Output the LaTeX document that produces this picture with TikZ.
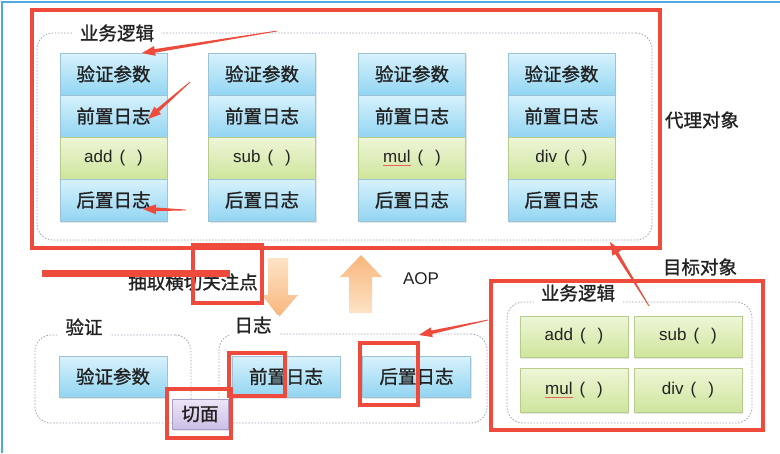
\documentclass[tikz,border=0pt]{standalone}
\usepackage{fontspec}
\setmainfont{Liberation Sans}
\newfontfamily\cjk[FakeBold=1.2]{Noto Sans CJK SC}
\usetikzlibrary{arrows.meta,shadows,calc}
\definecolor{redm}{HTML}{EF4B3C}
\definecolor{txt}{HTML}{222222}
\definecolor{boxedge}{HTML}{9CC4D6}
\definecolor{bluetop}{HTML}{D8F2FC}
\definecolor{bluebot}{HTML}{92D5F2}
\definecolor{greenedge}{HTML}{B5CC8A}
\definecolor{greentop}{HTML}{EEF6D8}
\definecolor{greenbot}{HTML}{CFE59C}
\definecolor{purpedge}{HTML}{A89CC4}
\definecolor{purptop}{HTML}{EDE6F7}
\definecolor{purpbot}{HTML}{CDBFE6}
\definecolor{dashcol}{HTML}{9AA6B6}
\definecolor{framecol}{HTML}{4FA8E0}
\definecolor{orlight}{HTML}{FDE3C6}
\definecolor{ordark}{HTML}{F8B67C}
\definecolor{sqred}{HTML}{E86060}
\newcommand\spellul[1]{\setbox0\hbox{#1}\rlap{\color{sqred}\raisebox{-3pt}{\rule{\wd0}{0.8pt}}}\box0}
\newcommand\zh{\cjk\fontsize{18.5}{21}\selectfont}
\newcommand\taperarrow[2]{%
  \coordinate (tb) at ($(#2)!13pt!(#1)$);
  \fill[redm] ($(#1)!0.4pt!90:(#2)$) -- ($(tb)!1.8pt!90:(#2)$) -- ($(tb)!5pt!90:(#2)$) -- (#2)
    -- ($(tb)!5pt!-90:(#2)$) -- ($(tb)!1.8pt!-90:(#2)$) -- ($(#1)!0.4pt!-90:(#2)$) -- cycle;}
\begin{document}
\begin{tikzpicture}[x=1pt,y=-1pt,
  every node/.style={font=\fontsize{17}{20}\selectfont, text=txt},
  basebox/.style={line width=0.6pt, inner sep=0pt,
    drop shadow={opacity=0.2, shadow xshift=1pt, shadow yshift=-1.5pt}},
  bluebox/.style={basebox, draw=boxedge, top color=bluetop, bottom color=bluebot,
    minimum width=107pt, minimum height=42pt},
  greenbox/.style={basebox, draw=greenedge, top color=greentop, bottom color=greenbot,
    minimum width=107pt, minimum height=42pt},
  purpbox/.style={basebox, draw=purpedge, top color=purptop, bottom color=purpbot,
    minimum width=56pt, minimum height=30pt},
  group/.style={draw=dashcol, line width=0.8pt, dash pattern=on 1.5pt off 1.6pt,
    rounded corners=16pt, inner sep=0pt},
  grouplabel/.style={fill=white, inner xsep=7pt, inner ysep=2pt},
  redframe/.style={draw=redm, line width=3.6pt, inner sep=0pt},
  plain/.style={inner sep=0pt}]
\useasboundingbox (0,0) rectangle (780,453);
\fill[white] (0,0) rectangle (780,453);
\draw[framecol, line width=1.2pt] (2,453) -- (2,2) -- (780,2);

% ---- proxy group (top) ----
\node[group, minimum width=615pt, minimum height=207pt] (topgroup) at (344.5,136.5) {};
\node[grouplabel] (toplabel) at (117,33) {\zh 业务逻辑};
\foreach \c/\x/\f in {1/113.5/{add}, 2/262/{sub}, 3/412/{\spellul{mul}}, 4/561.5/{div}}{
  \node[bluebox]  (v\c) at (\x,74)  {\zh 验证参数};
  \node[bluebox]  (q\c) at (\x,116) {\zh 前置日志};
  \node[greenbox] (f\c) at (\x,158) {\f\hspace{7pt}(\hspace{12pt})};
  \node[bluebox]  (h\c) at (\x,200) {\zh 后置日志};
}
\node[plain] (proxylabel) at (702,120) {\zh 代理对象};

% ---- middle ----
\node[plain] (extract) at (193,282) {\zh 抽取横切关注点};
\node[plain] (aop) at (421,279) {AOP};
\shade[top color=orlight, bottom color=ordark]
  (268,258) -- (288,258) -- (288,295) -- (298,295) -- (279,317) -- (262,295) -- (268,295) -- cycle;
\shade[top color=ordark, bottom color=orlight]
  (349,313) -- (372,313) -- (372,277) -- (382,277) -- (361,255) -- (340,277) -- (349,277) -- cycle;

% ---- bottom left groups ----
\node[group, minimum width=156pt, minimum height=88pt] (vgroup) at (113,379) {};
\node[grouplabel] (vlabel) at (84,327) {\zh 验证};
\node[bluebox, minimum width=108pt, minimum height=41pt] (vbox) at (113,376.5) {\zh 验证参数};

\node[group, minimum width=268pt, minimum height=89pt] (lgroup) at (353,378.5) {};
\node[grouplabel] (llabel) at (253,325) {\zh 日志};
\node[bluebox, minimum width=108pt, minimum height=41pt] (prebox) at (286,376.5) {\zh 前置日志};
\node[bluebox, minimum width=108pt, minimum height=41pt] (postbox) at (416.5,376.5) {\zh 后置日志};

\node[purpbox] (aspect) at (200,414) {\zh 切面};

% ---- target (right) ----
\node[plain] (targetlabel) at (700,267) {\zh 目标对象};
\node[group, minimum width=245pt, minimum height=121pt] (rgroup) at (629.5,362.5) {};
\node[grouplabel] (rlabel) at (578,293) {\zh 业务逻辑};
\node[greenbox, minimum width=108pt, minimum height=41pt] (tadd) at (574,336.5) {add\hspace{7pt}(\hspace{12pt})};
\node[greenbox, minimum width=108pt, minimum height=41pt] (tsub) at (688,336.5) {sub\hspace{7pt}(\hspace{12pt})};
\node[greenbox, minimum width=108pt, minimum height=44pt] (tmul) at (574,390) {\spellul{mul}\hspace{7pt}(\hspace{12pt})};
\node[greenbox, minimum width=108pt, minimum height=44pt] (tdiv) at (688,390) {div\hspace{7pt}(\hspace{12pt})};

% ---- red annotations ----
\coordinate (rl1) at (42,273);
\coordinate (rl2) at (230,273);
\draw[redm, line width=7pt] (rl1) -- (rl2);

\node[redframe, minimum width=628pt, minimum height=238pt] (proxyframe) at (346,129) {};
\node[redframe, minimum width=69pt, minimum height=58pt] (concernframe) at (227.5,274) {};
\node[redframe, minimum width=64pt, minimum height=49pt] (aspectframe) at (199,413.5) {};
\node[redframe, minimum width=56pt, minimum height=43pt] (preframe) at (257,374.5) {};
\node[redframe, minimum width=58pt, minimum height=62pt] (postframe) at (389,374) {};
\node[redframe, minimum width=272pt, minimum height=149pt] (targetframe) at (627,355.5) {};

\coordinate (a1s) at (277,31);  \coordinate (a1e) at (142,53);
\coordinate (a2s) at (190,82);  \coordinate (a2e) at (148,119);
\coordinate (a3s) at (186,210); \coordinate (a3e) at (143,209);
\coordinate (a4s) at (488,320); \coordinate (a4e) at (419,335);
\coordinate (a5s) at (649,306); \coordinate (a5e) at (610,242);
\taperarrow{a1s}{a1e}
\taperarrow{a2s}{a2e}
\taperarrow{a3s}{a3e}
\taperarrow{a4s}{a4e}
\taperarrow{a5s}{a5e}
\end{tikzpicture}
\end{document}
